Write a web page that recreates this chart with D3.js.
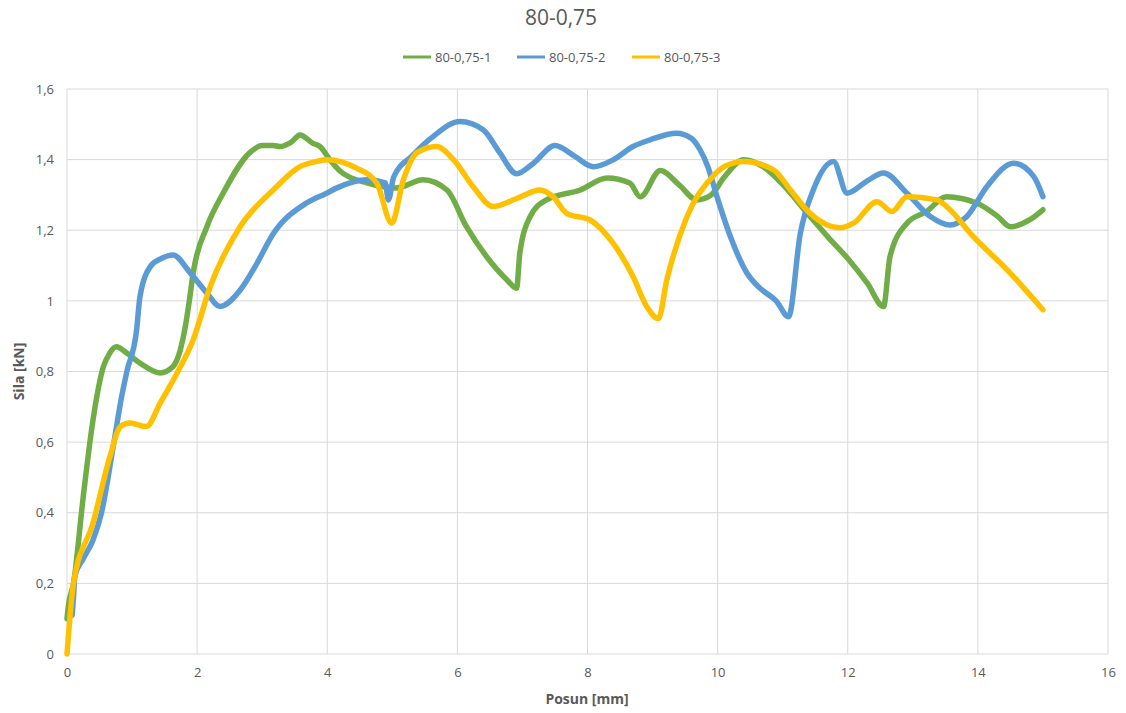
<!DOCTYPE html>
<html><head><meta charset="utf-8">
<script src="https://cdn.jsdelivr.net/npm/d3@7"></script>
<style>
body{margin:0;background:#fff;}
text{font-family:"Open Sans",sans-serif;fill:#595959;}
</style></head><body>
<svg id="chart" width="1126" height="713"></svg>
<script>
const title = "80-0,75";
const seriesNames = ["80-0,75-1","80-0,75-2","80-0,75-3"];
const seriesColors = ["#70AD47","#5B9BD5","#FFC000"];
const xTicks = [0,2,4,6,8,10,12,14,16];
const yTicks = [0,0.2,0.4,0.6,0.8,1,1.2,1.4,1.6];

const s1x = [0,0.02,0.1,0.25,0.4,0.56,0.65,0.76,0.9,1.12,1.43,1.63,1.74,1.81,1.88,1.94,2.15,2.4,2.81,3.0,3.17,3.27,3.45,3.58,3.78,3.89,4.04,4.2,4.61,5.07,5.47,5.84,6.14,6.45,6.76,6.91,6.96,7.12,7.37,7.89,8.3,8.65,8.81,9.12,9.4,9.68,9.9,10.1,10.4,10.7,11.0,11.37,11.7,12.0,12.3,12.55,12.65,12.91,13.21,13.52,13.75,14.04,14.3,14.5,14.8,15.0];
const s1y = [0.1,0.134,0.2,0.446,0.663,0.814,0.85,0.87,0.855,0.824,0.796,0.814,0.86,0.918,1.0,1.08,1.21,1.305,1.42,1.44,1.44,1.437,1.45,1.47,1.446,1.437,1.40,1.367,1.334,1.32,1.343,1.314,1.21,1.125,1.06,1.036,1.135,1.239,1.286,1.314,1.348,1.334,1.295,1.369,1.33,1.286,1.30,1.35,1.40,1.38,1.33,1.25,1.18,1.12,1.05,0.984,1.126,1.22,1.253,1.295,1.29,1.272,1.24,1.21,1.23,1.258];

const s2x = [0.08,0.1,0.12,0.25,0.4,0.53,0.71,0.84,0.92,1.07,1.12,1.28,1.45,1.63,1.89,2.15,2.35,2.66,2.9,3.17,3.68,3.99,4.15,4.61,4.89,4.94,5.02,5.3,5.63,6.04,6.4,6.65,6.91,7.17,7.5,7.8,8.09,8.4,8.7,8.96,9.37,9.6,9.73,9.85,9.99,10.2,10.45,10.65,10.9,11.09,11.27,11.47,11.78,11.99,12.3,12.55,12.91,13.27,13.57,13.83,14.14,14.55,14.86,15.0];
const s2y = [0.11,0.16,0.22,0.27,0.323,0.40,0.587,0.729,0.80,0.918,1.01,1.097,1.12,1.13,1.08,1.022,0.984,1.03,1.10,1.19,1.277,1.305,1.32,1.343,1.334,1.286,1.35,1.41,1.466,1.508,1.484,1.42,1.36,1.39,1.44,1.41,1.38,1.40,1.437,1.456,1.475,1.46,1.428,1.38,1.295,1.18,1.079,1.036,1.00,0.955,1.19,1.314,1.395,1.305,1.34,1.362,1.305,1.239,1.215,1.239,1.324,1.39,1.352,1.295];

const s3x = [0,0.1,0.4,0.66,0.82,0.97,1.22,1.43,1.69,1.94,2.2,2.66,3.17,3.58,3.84,3.99,4.45,4.76,4.99,5.17,5.38,5.68,5.94,6.24,6.55,6.91,7.27,7.47,7.68,8.04,8.39,8.7,8.91,9.09,9.22,9.53,9.88,10.1,10.4,10.86,11.12,11.42,11.88,12.09,12.45,12.68,12.91,13.37,13.57,13.93,14.45,15.0];
const s3y = [0,0.2,0.371,0.559,0.644,0.654,0.644,0.71,0.795,0.89,1.04,1.21,1.314,1.38,1.395,1.40,1.376,1.334,1.22,1.343,1.42,1.437,1.40,1.324,1.267,1.29,1.314,1.295,1.248,1.229,1.164,1.069,0.984,0.95,1.06,1.239,1.343,1.38,1.395,1.371,1.314,1.248,1.207,1.22,1.281,1.253,1.295,1.286,1.258,1.182,1.088,0.975];

const seriesX = [s1x,s2x,s3x], seriesY = [s1y,s2y,s3y];

const svg = d3.select("#chart");
const x = d3.scaleLinear().domain([0,16]).range([67,1108]);
const y = d3.scaleLinear().domain([0,1.6]).range([654,89]);
const fmt = d => String(+d.toFixed(1)).replace(".",",");

// gridlines
svg.append("g").selectAll("line").data(yTicks).join("line")
  .attr("x1",x(0)).attr("x2",x(16)).attr("y1",d=>y(d)).attr("y2",d=>y(d))
  .attr("stroke","#d9d9d9").attr("stroke-width",1);
svg.append("g").selectAll("line").data(xTicks).join("line")
  .attr("y1",y(0)).attr("y2",y(1.6)).attr("x1",d=>x(d)).attr("x2",d=>x(d))
  .attr("stroke","#d9d9d9").attr("stroke-width",1);

// axes (labels only)
const xa = svg.append("g").attr("transform",`translate(0,${y(0)})`)
  .call(d3.axisBottom(x).tickValues(xTicks).tickSize(0).tickPadding(14).tickFormat(d=>d));
xa.select(".domain").remove();
xa.selectAll("text").style("font-size","13px").attr("fill","#595959");
const ya = svg.append("g").attr("transform",`translate(${x(0)},0)`)
  .call(d3.axisLeft(y).tickValues(yTicks).tickSize(0).tickPadding(13).tickFormat(fmt));
ya.select(".domain").remove();
ya.selectAll("text").style("font-size","13px").attr("fill","#595959");

// lines
const line = d3.line().x(d=>x(d[0])).y(d=>y(d[1])).curve(d3.curveMonotoneX);
seriesX.forEach((xs,i)=>{
  const pts = xs.map((v,j)=>[v, seriesY[i][j]]);
  svg.append("path").datum(pts).attr("d",line)
    .attr("fill","none").attr("stroke",seriesColors[i]).attr("stroke-width",5.5)
    .attr("stroke-linejoin","round").attr("stroke-linecap","round");
});

// title
svg.append("text").attr("x",561).attr("y",25).attr("text-anchor","middle")
  .style("font-size","21px").text(title);

// legend
const lx = [403,517,632];
seriesNames.forEach((n,i)=>{
  svg.append("line").attr("x1",lx[i]).attr("x2",lx[i]+28).attr("y1",57).attr("y2",57)
    .attr("stroke",seriesColors[i]).attr("stroke-width",3);
  svg.append("text").attr("x",lx[i]+32).attr("y",61.5).style("font-size","13px").text(n);
});

// axis titles
svg.append("text").attr("x",587).attr("y",704).attr("text-anchor","middle")
  .style("font-size","14px").style("font-weight","bold").text("Posun [mm]");
svg.append("text").attr("transform",`translate(24,${(89+654)/2}) rotate(-90)`)
  .attr("text-anchor","middle").style("font-size","14px").style("font-weight","bold").text("Sila [kN]");
</script></body></html>
